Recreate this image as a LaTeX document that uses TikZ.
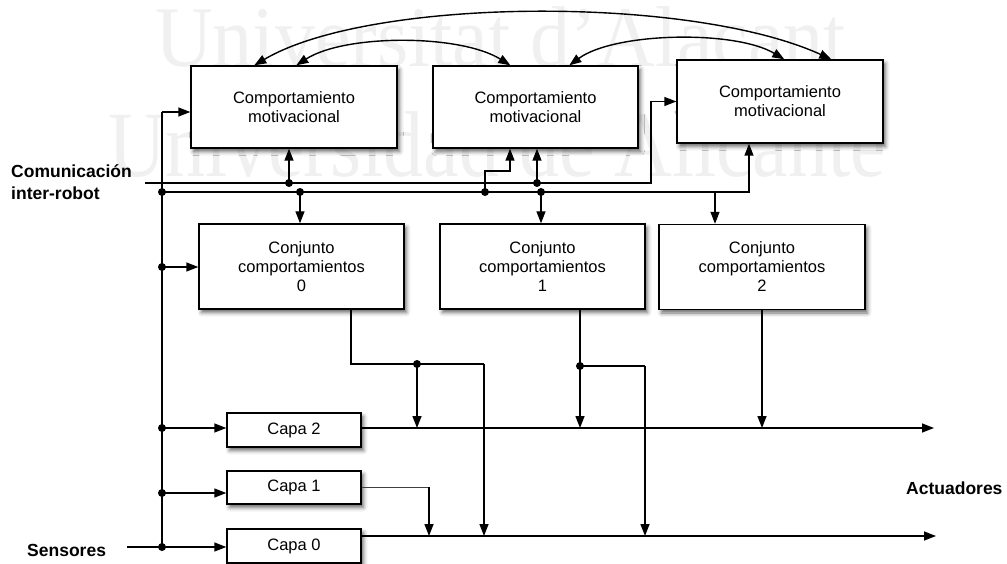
\documentclass[tikz,border=0pt]{standalone}
\usepackage{fontspec}
\usepackage{graphicx}
\setmainfont{Liberation Sans}
\newfontfamily\wmfont{Liberation Serif}
\usetikzlibrary{arrows.meta,shadows.blur,calc}

\begin{document}
\begin{tikzpicture}[x=1pt,y=-1pt,
  wire/.style={line width=1.4pt},
  tip/.tip={Triangle[length=12pt,width=9pt]},
  arr/.style={wire,-tip},
  biarr/.style={wire,tip-tip},
  blk/.style={draw,line width=1.4pt,fill=white,inner sep=0pt,align=center,
    font=\fontsize{16.5}{19}\selectfont,
    blur shadow={shadow xshift=2.5pt,shadow yshift=-3.5pt,shadow blur radius=4pt,shadow opacity=60}},
  lbl/.style={inner sep=0pt,align=left,font=\fontsize{17.5}{22}\selectfont\bfseries},
  wm/.style={inner sep=0pt,anchor=base west,text=black!6,font=\wmfont\fontsize{80}{80}\selectfont},
]
\useasboundingbox (0,0) rectangle (1007,564);

% background watermark
\node[wm] (wmA) at (155,67) {\scalebox{1}[1.08]{Universitat d’Alacant}};
\node[wm] (wmB) at (108,177) {\scalebox{1}[1.17]{Universidad de Alicante}};

% motivational behaviours
\node[blk,minimum width=206pt,minimum height=82pt] (cm0) at (294,107) {Comportamiento\\motivacional};
\node[blk,minimum width=205pt,minimum height=82pt] (cm1) at (535.5,107) {Comportamiento\\motivacional};
\node[blk,minimum width=206pt,minimum height=83pt] (cm2) at (780,101.5) {Comportamiento\\motivacional};

% behaviour sets
\node[blk,minimum width=205pt,minimum height=85pt] (cc0) at (301.5,266.5) {Conjunto\\comportamientos\\0};
\node[blk,minimum width=205pt,minimum height=85pt] (cc1) at (542.5,266.5) {Conjunto\\comportamientos\\1};
\node[blk,minimum width=206pt,minimum height=85pt] (cc2) at (762,267) {Conjunto\\comportamientos\\2};

% layers
\node[blk,minimum width=134pt,minimum height=34pt] (capa2) at (294,430) {Capa 2};
\node[blk,minimum width=134pt,minimum height=33pt] (capa1) at (294,487.5) {Capa 1};
\node[blk,minimum width=134pt,minimum height=34pt] (capa0) at (294,546) {Capa 0};

% side labels
\node[lbl,anchor=west] (com) at (11,182) {Comunicación\\inter-robot};
\node[lbl,anchor=west] (sens) at (27,550) {Sensores};
\node[lbl,anchor=west] (act) at (906,488) {Actuadores};

% junctions and bends
\coordinate (busTop) at (162,112);
\coordinate (aL) at (145,183);
\coordinate (aR) at (651,183);
\coordinate (bR) at (749,192);
\coordinate (jB0) at (162,192);
\coordinate (jA0) at (289,183);
\coordinate (jB1) at (300,192);
\coordinate (jB2) at (485,192);
\coordinate (s1) at (510,171);
\coordinate (jA1) at (537,183);
\coordinate (jB3) at (541,192);
\coordinate (tC2) at (715,192);
\coordinate (jCC) at (162,267);
\coordinate (j2) at (162,428);
\coordinate (j1) at (162,493);
\coordinate (j0) at (162,547);
\coordinate (sIn) at (127,547);
\coordinate (o2) at (934,428);
\coordinate (o0) at (936,536);
\coordinate (c0c) at (351,364);
\coordinate (k0) at (417,364);
\coordinate (k0r) at (484,364);
\coordinate (k1) at (580,366);
\coordinate (k1r) at (645,366);
\coordinate (k3) at (429,487);

% sensor bus
\draw[wire] (j0) -- (busTop);
\draw[arr] (busTop) -- (busTop -| cm0.west);
\draw[arr] (sIn) -- (j0) -- (j0 -| capa0.west);
\draw[arr] (jCC) -- (jCC -| cc0.west);
\draw[arr] (j2) -- (j2 -| capa2.west);
\draw[arr] (j1) -- (j1 -| capa1.west);

% inter-robot lines
\draw[arr] (aL) -- (aR) |- (cm2.west);
\draw[arr] (jB0) -- (bR) -- (bR |- cm2.south);
\draw[arr] (jA0) -- (jA0 |- cm0.south);
\draw[arr] (jB1) -- (jB1 |- cc0.north);
\draw[arr] (jB2) |- (s1) -- (s1 |- cm1.south);
\draw[arr] (jA1) -- (jA1 |- cm1.south);
\draw[arr] (jB3) -- (jB3 |- cc1.north);
\draw[arr] (tC2) -- (tC2 |- cc2.north);

% links between motivational behaviours
\coordinate (p0o) at ($(cm0.north west)+(64,0)$);
\coordinate (p0i) at ($(cm0.north west)+(106,0)$);
\coordinate (p1a) at ($(cm1.north west)+(78,0)$);
\coordinate (p1b) at ($(cm1.north west)+(137,0)$);
\coordinate (p2a) at ($(cm2.north west)+(108,0)$);
\coordinate (p2o) at ($(cm2.north west)+(155,0)$);
\draw[biarr] (p0i) .. controls (345,34) and (460,34) .. (p1a);
\draw[biarr] (p1b) .. controls (615,32) and (735,30) .. (p2a);
\draw[biarr] (p0o) .. controls (370,-3) and (690,-5) .. (p2o);

% actuator outputs
\draw[arr] (capa2.east |- o2) -- (o2);
\draw[arr] (capa0.east |- o0) -- (o0);
\draw[wire] (c0c |- cc0.south) -- (c0c) -- (k0r);
\draw[arr] (k0r) -- (k0r |- o0);
\draw[arr] (k0) -- (k0 |- o2);
\draw[wire] (k1 |- cc1.south) -- (k1) -- (k1r);
\draw[arr] (k1r) -- (k1r |- o0);
\draw[arr] (k1) -- (k1 |- o2);
\draw[arr] (cc2.south) -- (cc2.south |- o2);
\draw[line width=0.7pt,black!75] (capa1.east |- k3) -- (k3);
\draw[arr] (k3) -- (k3 |- o0);

% junction dots
\foreach \p in {jB0,jA0,jB1,jB2,jA1,jB3,jCC,j2,j1,j0,k0,k1}
  \fill (\p) circle (4pt);
\end{tikzpicture}
\end{document}
